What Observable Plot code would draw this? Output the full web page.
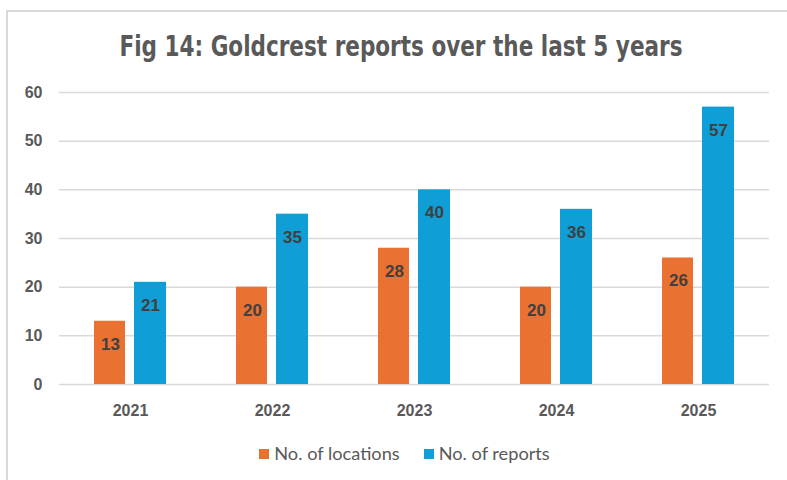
<!DOCTYPE html>
<html>
<head>
<meta charset="utf-8">
<script src="https://cdn.jsdelivr.net/npm/d3@7"></script>
<script src="https://cdn.jsdelivr.net/npm/@observablehq/plot@0.6"></script>
<style>
  html, body { margin: 0; padding: 0; background: #fff; }
  #wrap { position: relative; width: 787px; height: 480px; overflow: hidden; background: #fff; }
  #frame { position: absolute; left: 6px; top: 10px; width: 800px; height: 500px;
           border-top: 2px solid #d9d9d9; border-left: 2px solid #d9d9d9; box-sizing: border-box; }
  #title { position: absolute; left: 8px; width: 787px; top: 30px; text-align: center; white-space: nowrap; }
  #title span { display: inline-block; font-family: "DejaVu Sans Condensed", "DejaVu Sans", sans-serif;
           font-stretch: condensed; font-weight: bold; font-size: 28px; color: #595959; transform-origin: center; }
  #chart { position: absolute; left: 0; top: 70px; }
  #legend { position: absolute; left: 11px; width: 787px; top: 442px; text-align: center; white-space: nowrap;
            font-family: "Lato", "Noto Sans", sans-serif; font-size: 18.2px; color: #595959; }
  #legend span.item { display: inline-block; margin: 0 12px; }
  #legend span.sw { display: inline-block; width: 10px; height: 10px; margin-right: 5px; vertical-align: 1px; }
</style>
</head>
<body>
<div id="wrap">
  <div id="frame"></div>
  <div id="title"><span></span></div>
  <div id="chart"></div>
  <div id="legend"></div>
</div>
<script>
const titleText = "Fig 14: Goldcrest reports over the last 5 years";
const years = ["2021", "2022", "2023", "2024", "2025"];
const locations = [13, 20, 28, 20, 26];
const reports = [21, 35, 40, 36, 57];
const seriesNames = ["No. of locations", "No. of reports"];
const seriesColors = ["#E97132", "#0F9ED5"];
const yTicks = [0, 10, 20, 30, 40, 50, 60];

const table = years.map((year, i) => ({year, locations: locations[i], reports: reports[i]}));

const tspan = document.querySelector("#title span");
tspan.textContent = titleText;
const tw = tspan.getBoundingClientRect().width;
const targetW = 563;
tspan.style.transform = `scaleX(${targetW / tw})`;

const labelFont = {fontFamily: "Liberation Sans, Arial, sans-serif", fontWeight: "bold", fontSize: 17, fill: "#404040"};
const tickFont = {fontFamily: "Liberation Sans, Arial, sans-serif", fontWeight: "bold", fontSize: 16, fill: "#595959"};

const chart = Plot.plot({
  width: 787,
  height: 360,
  marginLeft: 59,
  marginRight: 18,
  marginTop: 22,
  marginBottom: 46,
  style: {fontFamily: "Liberation Sans, Arial, sans-serif", background: "transparent", overflow: "visible"},
  x: {domain: years, padding: 0, label: null},
  y: {domain: [0, 60], label: null},
  marks: [
    Plot.ruleY(yTicks, {stroke: "#d9d9d9", strokeWidth: 1.5}),
    Plot.axisY({ticks: yTicks, tickSize: 0, tickPadding: 17, label: null, ...tickFont}),
    Plot.axisX({tickSize: 0, tickPadding: 20, label: null, ...tickFont}),
    Plot.barY(table, {x: "year", y: "locations", fill: seriesColors[0], insetLeft: 35, insetRight: 76}),
    Plot.barY(table, {x: "year", y: "reports", fill: seriesColors[1], insetLeft: 75, insetRight: 35}),
    Plot.text(table, {x: "year", y: "locations", text: d => String(d.locations), dx: -20, dy: 23, ...labelFont}),
    Plot.text(table, {x: "year", y: "reports", text: d => String(d.reports), dx: 20, dy: 23, ...labelFont})
  ]
});
document.getElementById("chart").appendChild(chart);

const legend = document.getElementById("legend");
seriesNames.forEach((name, i) => {
  const item = document.createElement("span");
  item.className = "item";
  const sw = document.createElement("span");
  sw.className = "sw";
  sw.style.background = seriesColors[i];
  item.appendChild(sw);
  item.appendChild(document.createTextNode(name));
  legend.appendChild(item);
});
</script>
</body>
</html>
